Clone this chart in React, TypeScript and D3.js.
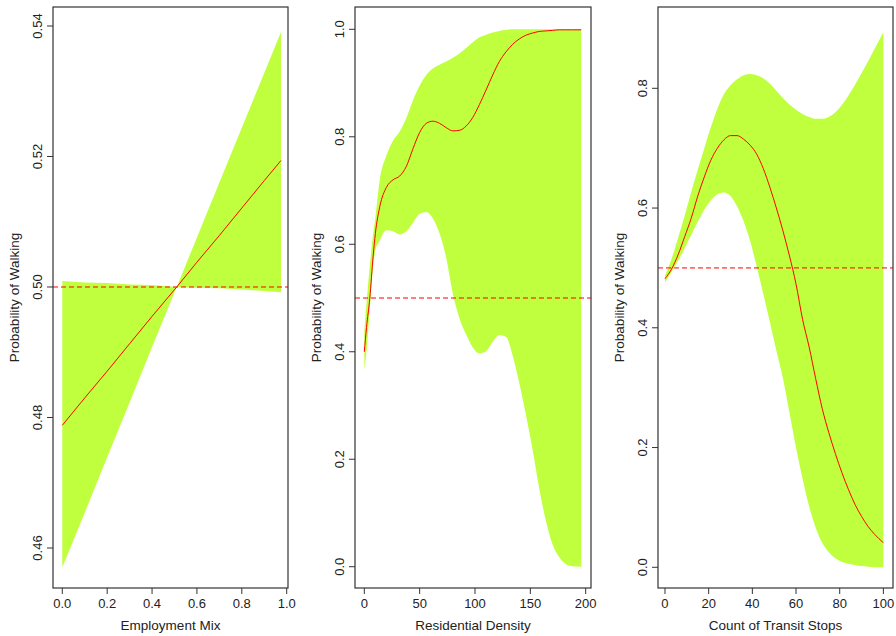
import React from "react";
import * as d3 from "d3";

// Employment Mix panel
const empX = [0, 0.1, 0.2, 0.3, 0.4, 0.51, 0.6, 0.7, 0.8, 0.9, 0.975];
const empFit = [0.4788, 0.483, 0.4871, 0.4913, 0.4955, 0.5, 0.5038, 0.5079, 0.5121, 0.5163, 0.5194];
const empLower = [0.457, 0.4654, 0.4739, 0.4823, 0.4908, 0.5, 0.4999, 0.4998, 0.4996, 0.4994, 0.4992];
const empUpper = [0.5009, 0.5007, 0.5006, 0.5004, 0.5003, 0.5, 0.5076, 0.516, 0.5244, 0.5328, 0.5391];
const empXTicks = [0, 0.2, 0.4, 0.6, 0.8, 1.0];
const empYTicks = [0.46, 0.48, 0.5, 0.52, 0.54];

// Residential Density panel
const resX = [0, 2, 5, 8, 10, 14, 20, 26, 32, 38, 44, 50, 56, 62, 68, 74, 80, 86, 92, 98, 104, 110, 116, 122, 128, 134, 140, 146, 152, 158, 164, 170, 176, 182, 188, 196];
const resFit = [0.4, 0.445, 0.5, 0.578, 0.62, 0.67, 0.706, 0.72, 0.727, 0.745, 0.778, 0.808, 0.825, 0.829, 0.825, 0.817, 0.811, 0.812, 0.82, 0.836, 0.86, 0.887, 0.915, 0.94, 0.958, 0.972, 0.982, 0.989, 0.993, 0.996, 0.997, 0.998, 0.999, 0.999, 0.999, 0.999];
const resLower = [0.366, 0.4, 0.48, 0.56, 0.588, 0.607, 0.626, 0.624, 0.618, 0.624, 0.64, 0.657, 0.66, 0.648, 0.62, 0.575, 0.508, 0.462, 0.432, 0.408, 0.397, 0.401, 0.418, 0.431, 0.428, 0.393, 0.342, 0.283, 0.218, 0.146, 0.086, 0.042, 0.018, 0.005, 0.001, 0.0];
const resUpper = [0.44, 0.49, 0.56, 0.62, 0.65, 0.72, 0.765, 0.793, 0.81, 0.835, 0.868, 0.895, 0.915, 0.927, 0.934, 0.94, 0.947, 0.955, 0.965, 0.976, 0.985, 0.99, 0.994, 0.997, 0.999, 1.0, 1.0, 1.0, 1.0, 1.0, 1.0, 1.0, 1.0, 1.0, 1.0, 1.0];
const resXTicks = [0, 50, 100, 150, 200];
const resYTicks = [0, 0.2, 0.4, 0.6, 0.8, 1.0];

// Count of Transit Stops panel
const trX = [0, 3, 6, 9, 12, 15, 18, 21, 24, 27, 30, 33, 36, 39, 42, 45, 48, 51, 54, 57, 60, 63, 66, 69, 72, 75, 78, 81, 84, 87, 90, 93, 96, 100];
const trFit = [0.482, 0.498, 0.522, 0.552, 0.583, 0.62, 0.652, 0.68, 0.7, 0.714, 0.721, 0.721, 0.715, 0.705, 0.69, 0.666, 0.635, 0.6, 0.562, 0.52, 0.473, 0.414, 0.368, 0.315, 0.265, 0.225, 0.19, 0.158, 0.13, 0.105, 0.085, 0.068, 0.055, 0.041];
const trLower = [0.476, 0.493, 0.512, 0.533, 0.555, 0.577, 0.597, 0.613, 0.623, 0.626, 0.62, 0.603, 0.578, 0.545, 0.502, 0.457, 0.41, 0.362, 0.316, 0.258, 0.2, 0.148, 0.102, 0.066, 0.041, 0.025, 0.015, 0.009, 0.006, 0.004, 0.002, 0.001, 0.0, 0.0];
const trUpper = [0.487, 0.515, 0.55, 0.587, 0.627, 0.664, 0.7, 0.735, 0.766, 0.79, 0.805, 0.815, 0.822, 0.824, 0.822, 0.817, 0.808, 0.796, 0.784, 0.773, 0.764, 0.757, 0.752, 0.749, 0.749, 0.752, 0.76, 0.772, 0.788, 0.806, 0.825, 0.845, 0.866, 0.894];
const trXTicks = [0, 20, 40, 60, 80, 100];
const trYTicks = [0, 0.2, 0.4, 0.6, 0.8];

const threshold = 0.5;

const TOP = 7;
const BOTTOM = 588;
const FONT = "'Liberation Sans', Arial, sans-serif";
const GREEN = "#C0FF3E";
const TICK_SIZE = 13;
const TITLE_SIZE = 13.5;

const panels = [
  {
    title: "Employment Mix",
    xs: empX, fit: empFit, lower: empLower, upper: empUpper,
    xTicks: empXTicks, yTicks: empYTicks,
    xFmt: d3.format(".1f"), yFmt: d3.format(".2f"),
    left: 53, right: 288,
    xDomain: [-0.0414, 1.0058], yDomain: [0.45387, 0.54291],
    curve: d3.curveLinear,
  },
  {
    title: "Residential Density",
    xs: resX, fit: resFit, lower: resLower, upper: resUpper,
    xTicks: resXTicks, yTicks: resYTicks,
    xFmt: d3.format("d"), yFmt: d3.format(".1f"),
    left: 355, right: 591,
    xDomain: [-8.4, 204.8], yDomain: [-0.0396, 1.0415],
    curve: d3.curveMonotoneX,
  },
  {
    title: "Count of Transit Stops",
    xs: trX, fit: trFit, lower: trLower, upper: trUpper,
    xTicks: trXTicks, yTicks: trYTicks,
    xFmt: d3.format("d"), yFmt: d3.format(".1f"),
    left: 658, right: 893,
    xDomain: [-3.2, 104.4], yDomain: [-0.0346, 0.9358],
    curve: d3.curveMonotoneX,
  },
];

function Panel({ p }: { p: any }) {
  const x = d3.scaleLinear().domain(p.xDomain).range([p.left, p.right]);
  const y = d3.scaleLinear().domain(p.yDomain).range([BOTTOM, TOP]);
  const idx = p.xs.map((_: number, i: number) => i);

  const band = d3
    .area<number>()
    .x((i) => x(p.xs[i]))
    .y0((i) => y(p.lower[i]))
    .y1((i) => y(p.upper[i]))
    .curve(p.curve)(idx);

  const fitLine = d3
    .line<number>()
    .x((i) => x(p.xs[i]))
    .y((i) => y(p.fit[i]))
    .curve(p.curve)(idx);

  const midY = (TOP + BOTTOM) / 2;
  const midX = (p.left + p.right) / 2;

  return (
    <g>
      <path d={band || ""} fill={GREEN} stroke="none" />
      <path d={fitLine || ""} fill="none" stroke="#FF0000" strokeWidth={1} />
      <line
        x1={p.left}
        x2={p.right}
        y1={y(threshold)}
        y2={y(threshold)}
        stroke="#FF0000"
        strokeWidth={1}
        strokeDasharray="5,3"
      />
      <rect
        x={p.left}
        y={TOP}
        width={p.right - p.left}
        height={BOTTOM - TOP}
        fill="none"
        stroke="#333"
        strokeWidth={1.2}
      />
      {p.xTicks.map((t: number) => (
        <g key={"x" + t}>
          <line x1={x(t)} x2={x(t)} y1={BOTTOM} y2={BOTTOM + 6} stroke="#333" />
          <text x={x(t)} y={608} textAnchor="middle" fontSize={TICK_SIZE} fill="#222">
            {p.xFmt(t)}
          </text>
        </g>
      ))}
      {p.yTicks.map((t: number) => (
        <g key={"y" + t}>
          <line x1={p.left - 6} x2={p.left} y1={y(t)} y2={y(t)} stroke="#333" />
          <text
            transform={`translate(${p.left - 11},${y(t)}) rotate(-90)`}
            textAnchor="middle"
            fontSize={TICK_SIZE}
            fill="#222"
          >
            {p.yFmt(t)}
          </text>
        </g>
      ))}
      <text x={midX} y={630} textAnchor="middle" fontSize={TITLE_SIZE} fill="#222">
        {p.title}
      </text>
      <text
        transform={`translate(${p.left - 34},${midY}) rotate(-90)`}
        textAnchor="middle"
        fontSize={TITLE_SIZE}
        fill="#222"
      >
        Probability of Walking
      </text>
    </g>
  );
}

export default function App() {
  return (
    <svg
      width={896}
      height={636}
      style={{ position: "absolute", left: 0, top: 0, background: "#fff" }}
      fontFamily={FONT}
    >
      <rect width={896} height={636} fill="#fff" />
      {panels.map((p) => (
        <Panel key={p.title} p={p} />
      ))}
    </svg>
  );
}
